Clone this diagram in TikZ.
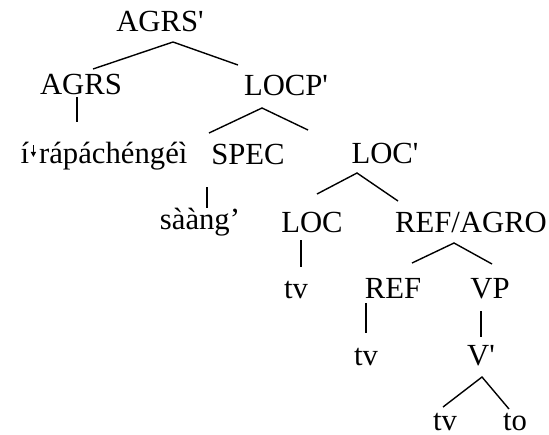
\documentclass[tikz,border=0pt]{standalone}
\usepackage{fontspec}
\setmainfont{Liberation Serif}[Ligatures=TeXOff]
\usetikzlibrary{positioning,arrows.meta}

\begin{document}
\begin{tikzpicture}[
  x=0.5pt, y=-0.5pt,
  font=\fontsize{15.35}{18}\selectfont,
  cat/.style={anchor=base, inner sep=0pt},
  br/.style={line width=0.7pt},
  dstep/.style={line width=0.55pt, -{Triangle[length=2.6pt,width=2.6pt]}}
]
\useasboundingbox (0,0) rectangle (549,434);

% Top level
\node[cat] (agrsp) at (160,31) {AGRS'};
\node[cat] (agrs) at (81,94) {AGRS};
\node[cat] (locp) at (286,95) {LOCP'};

% Second level
\node[cat] (verb) at (104,163) {í\hspace{5pt}rápáchéngéì};
\node[cat] (spec) at (248,164) {SPEC};
\node[cat] (locb) at (385,163) {LOC'};
\node[cat] (saang) at (200,229) {sààng’};

% Lower levels
\node[cat] (loc) at (312,232) {LOC};
\node[cat] (refagro) at (471,232) {REF/AGRO};
\node[cat] (tva) at (296,298) {tv};
\node[cat] (ref) at (393,298) {REF};
\node[cat] (vp) at (490,298) {VP};
\node[cat] (tvb) at (366,365) {tv};
\node[cat] (vb) at (481,365) {V'};
\node[cat] (tvc) at (445,430) {tv};
\node[cat] (to) at (515,430) {to};

% Downstep mark
\coordinate (ds-top) at ([xshift=6.6pt, yshift=9pt]verb.base west);
\coordinate (ds-tip) at ([xshift=6.6pt, yshift=3pt]verb.base west);
\draw[dstep] (ds-top) -- (ds-tip);

% Branch points
\coordinate (agrsp-b) at (173,42);
\coordinate (agrs-t) at (93,69);
\coordinate (locp-t) at (238,65);
\coordinate (agrs-b) at (77,97);
\coordinate (verb-t) at (77,122);
\coordinate (locp-b) at (262,108);
\coordinate (spec-t) at (209,133);
\coordinate (locb-t) at (308,130);
\coordinate (spec-b) at (207,187);
\coordinate (saang-t) at (207,208);
\coordinate (locb-b) at (357,173);
\coordinate (loc-t) at (317,194);
\coordinate (refagro-t) at (398,201);
\coordinate (loc-b) at (301,240);
\coordinate (tva-t) at (301,267);
\coordinate (refagro-b) at (454,243);
\coordinate (ref-t) at (412,263);
\coordinate (vp-t) at (492,264);
\coordinate (ref-b) at (366,303);
\coordinate (tvb-t) at (366,333);
\coordinate (vp-b) at (481,311);
\coordinate (vb-t) at (481,337);
\coordinate (vb-b) at (482,377);
\coordinate (tvc-t) at (443,407);
\coordinate (to-t) at (509,409);

% Branches
\draw[br] (agrs-t) -- (agrsp-b) -- (locp-t);
\draw[br] (agrs-b) -- (verb-t);
\draw[br] (spec-t) -- (locp-b) -- (locb-t);
\draw[br] (spec-b) -- (saang-t);
\draw[br] (loc-t) -- (locb-b) -- (refagro-t);
\draw[br] (loc-b) -- (tva-t);
\draw[br] (ref-t) -- (refagro-b) -- (vp-t);
\draw[br] (ref-b) -- (tvb-t);
\draw[br] (vp-b) -- (vb-t);
\draw[br] (tvc-t) -- (vb-b) -- (to-t);

\end{tikzpicture}
\end{document}
